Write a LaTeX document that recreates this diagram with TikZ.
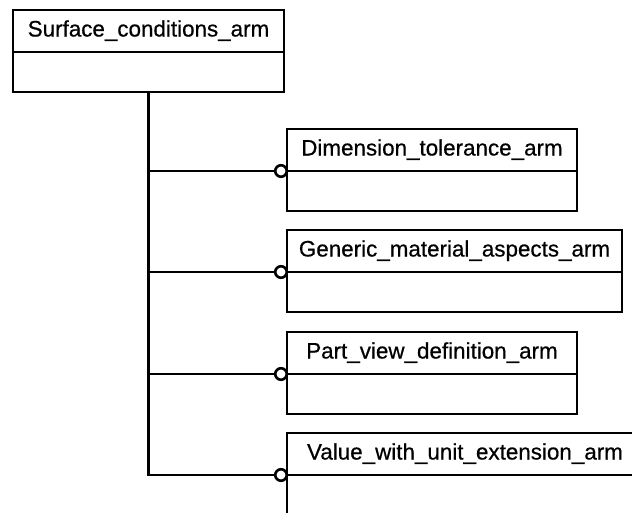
\documentclass[tikz,border=0pt]{standalone}
\usepackage{fontspec}
\setmainfont{Liberation Sans}[UprightFeatures={FakeBold=0.6}]
\begin{document}
\begin{tikzpicture}[x=1pt,y=-1pt,
  every node/.style={font=\fontsize{22.4}{26}\selectfont, outer sep=0pt},
  line width=2.6pt,
  hdr/.style={draw, rectangle, inner sep=0pt, minimum height=42pt, anchor=north west, text height=16pt, text depth=5pt},
  bdy/.style={draw, rectangle, inner sep=0pt, minimum height=40pt, anchor=north},
  lollipop/.style={draw, circle, fill=white, inner sep=0pt, minimum size=11.5pt, line width=2.6pt}]
\useasboundingbox (0,0) rectangle (632,512);
% top box
\node[hdr, minimum width=271pt] (th) at (13,10) {Surface\_conditions\_arm};
\node[bdy, minimum width=271pt] (tb) at (th.south) {};
% child boxes
\node[hdr, minimum width=290pt] (h1) at (287,129) {Dimension\_tolerance\_arm};
\node[bdy, minimum width=290pt] (b1) at (h1.south) {};
\node[hdr, minimum width=335pt] (h2) at (287,230) {Generic\_material\_aspects\_arm};
\node[bdy, minimum width=335pt] (b2) at (h2.south) {};
\node[hdr, minimum width=290pt] (h3) at (287,332) {Part\_view\_definition\_arm};
\node[bdy, minimum width=290pt] (b3) at (h3.south) {};
\node[hdr, minimum width=356pt] (h4) at (287,433) {Value\_with\_unit\_extension\_arm};
\node[bdy, minimum width=356pt] (b4) at (h4.south) {};
% lollipops
\node[lollipop] (c1) at (281,171) {};
\node[lollipop] (c2) at (281,272) {};
\node[lollipop] (c3) at (281,374) {};
\node[lollipop] (c4) at (281,475) {};
% connectors
\draw (tb.south) |- (c4.west);
\draw (tb.south |- c1) -- (c1.west);
\draw (tb.south |- c2) -- (c2.west);
\draw (tb.south |- c3) -- (c3.west);
\end{tikzpicture}
\end{document}
